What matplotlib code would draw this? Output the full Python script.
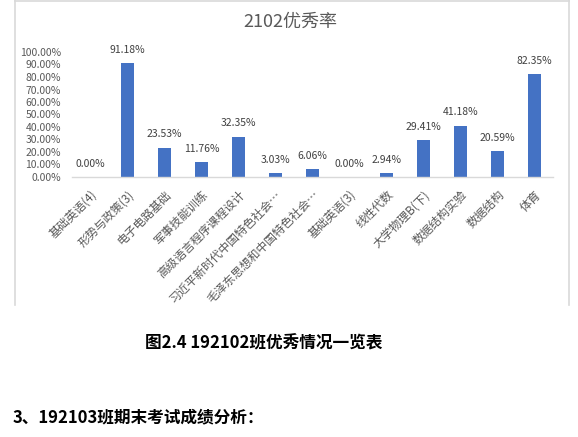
import matplotlib
matplotlib.use("Agg")
import matplotlib.pyplot as plt
from matplotlib.lines import Line2D

plt.rcParams['font.family'] = ['Noto Sans CJK SC', 'DejaVu Sans']

categories = ["基础英语(4)", "形势与政策(3)", "电子电路基础", "军事技能训练",
              "高级语言程序课程设计", "习近平新时代中国特色社会…",
              "毛泽东思想和中国特色社会…", "基础英语(3)", "线性代数",
              "大学物理B(下)", "数据结构实验", "数据结构", "体育"]
values = [0.00, 91.18, 23.53, 11.76, 32.35, 3.03, 6.06, 0.00, 2.94,
          29.41, 41.18, 20.59, 82.35]
yticks = [0, 10, 20, 30, 40, 50, 60, 70, 80, 90, 100]
title = "2102优秀率"
caption = "图2.4 192102班优秀情况一览表"
section = "3、192103班期末考试成绩分析："

W, H = 578, 437
fig = plt.figure(figsize=(W / 100, H / 100), dpi=100)

def fx(px):
    return px / W

def fy(py):
    return 1 - py / H

ax = fig.add_axes([fx(72), fy(177), fx(553) - fx(72), fy(52) - fy(177)])
x = list(range(len(categories)))
bars = ax.bar(x, values, width=0.33, color="#4472C4")
ax.set_xlim(-0.5, len(categories) - 0.5)
ax.set_ylim(0, 100)
ax.set_yticks(yticks)
ax.set_yticklabels([f"{v:.2f}%" for v in yticks], fontsize=7.5, color="#595959")
ax.set_xticks(x)
ax.set_xticklabels(categories, rotation=45, ha="right", va="top",
                   rotation_mode="anchor", fontsize=8.5, color="#595959")
ax.tick_params(axis="both", length=0)
ax.tick_params(axis="x", pad=8)
ax.tick_params(axis="y", pad=8)
for s in ["top", "right", "left"]:
    ax.spines[s].set_visible(False)
ax.spines["bottom"].set_color("#d9d9d9")
ax.spines["bottom"].set_linewidth(1)

for xi, v in zip(x, values):
    ax.annotate(f"{v:.2f}%", (xi, v), xytext=(0, 6), textcoords="offset points",
                ha="center", va="bottom", fontsize=7.5, color="#404040",
                annotation_clip=False)

fig.text(fx(290), fy(22), title, ha="center", va="center", fontsize=13,
         color="#595959")

# chart frame
frame_kw = dict(color="#d9d9d9", linewidth=1.2, transform=fig.transFigure)
fig.add_artist(Line2D([fx(14.5), fx(14.5)], [fy(0), fy(305)], **frame_kw))
fig.add_artist(Line2D([fx(569), fx(569)], [fy(0), fy(305)], **frame_kw))
fig.add_artist(Line2D([fx(14.5), fx(569)], [fy(0.5), fy(0.5)], **frame_kw))

fig.text(fx(264), fy(343), caption, ha="center", va="center", fontsize=12,
         fontweight="bold", color="black")
fig.text(fx(13), fy(417), section, ha="left", va="center", fontsize=12,
         fontweight="bold", color="black")

fig.savefig("out.png", dpi=100)
